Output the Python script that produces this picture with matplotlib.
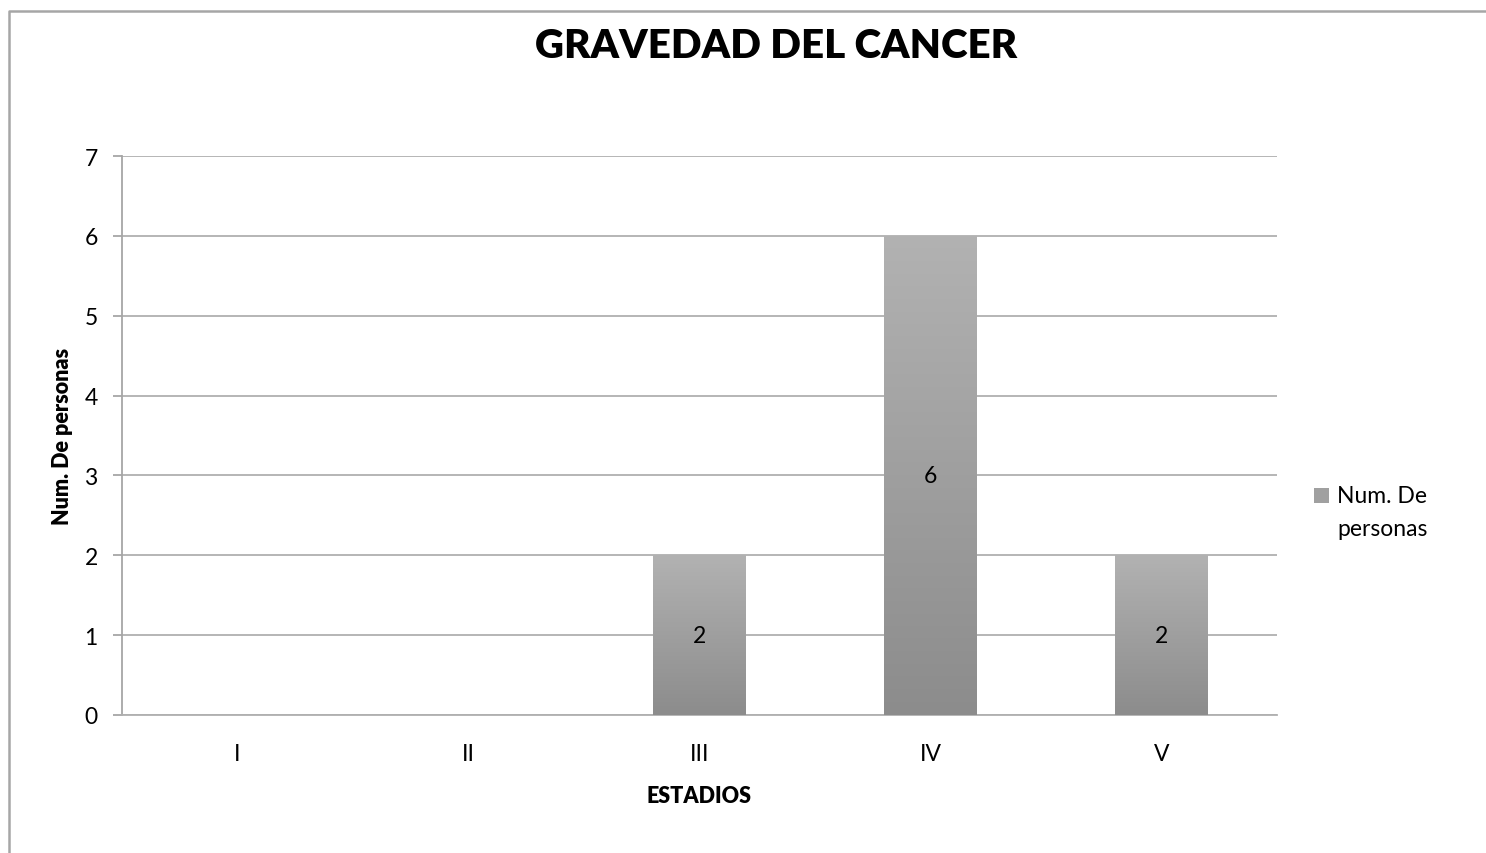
import numpy as np
import matplotlib
matplotlib.use("Agg")
from matplotlib import pyplot as plt
from matplotlib.patches import Rectangle
from matplotlib.lines import Line2D

plt.rcParams['font.family'] = ['Lato', 'DejaVu Sans']

# data
estadios = ['I', 'II', 'III', 'IV', 'V']
personas = [0, 0, 2, 6, 2]
serie = 'Num. De personas'

fig = plt.figure(figsize=(14.86, 8.54), dpi=100)
ax = fig.add_axes([122 / 1486, 1 - 716 / 854, (1277 - 122) / 1486, (716 - 157) / 854])

x = np.arange(len(estadios))
bw = 0.4
grad = np.linspace(0, 1, 256).reshape(-1, 1)
cmap = matplotlib.colors.LinearSegmentedColormap.from_list('g', ['#8c8c8c', '#b2b2b2'])

bars = ax.bar(x, personas, width=bw, color='none', edgecolor='none', zorder=3)
for b, v in zip(bars, personas):
    if v <= 0:
        continue
    im = ax.imshow(grad, cmap=cmap, aspect='auto', origin='lower',
                   extent=[b.get_x(), b.get_x() + b.get_width(), 0, v], zorder=3)
    im.set_clip_path(b)
    ax.text(b.get_x() + b.get_width() / 2, v / 2, str(v), ha='center', va='center',
            fontsize=16.5, color='black', zorder=4)

ax.set_xlim(-0.5, len(estadios) - 0.5)
ax.set_ylim(0, 7)
ax.set_yticks(range(0, 8))
ax.set_xticks(x)
ax.set_xticklabels(estadios)
ax.tick_params(axis='x', length=0, pad=20, labelsize=16.5)
ax.tick_params(axis='y', length=6.5, width=1.3, color='#a6a6a6', pad=11, labelsize=16.5)
ax.yaxis.grid(True, color='#b0b0b0', linewidth=1.3, zorder=0)
ax.set_axisbelow(True)
for s in ['top', 'right']:
    ax.spines[s].set_visible(False)
ax.spines['left'].set_color('#a6a6a6')
ax.spines['left'].set_linewidth(1.3)
ax.spines['bottom'].set_color('#b0b0b0')
ax.spines['bottom'].set_linewidth(1.3)

ax.set_xlabel('ESTADIOS', fontsize=15.5, fontweight='heavy', labelpad=15)
ax.set_ylabel(serie, fontsize=15.5, fontweight='heavy', labelpad=8)

fig.text(776 / 1486, 1 - 47 / 854, 'GRAVEDAD DEL CANCER', ha='center', va='center',
         fontsize=29, fontweight='heavy')

# legend
fig.patches.append(Rectangle((1314 / 1486, 1 - 504 / 854), 15 / 1486, 15 / 854,
                             transform=fig.transFigure, facecolor='#a0a0a0', edgecolor='none'))
fig.text(1337 / 1486, 1 - 497 / 854, 'Num. De', ha='left', va='center', fontsize=16.5)
fig.text(1337 / 1486, 1 - 530 / 854, 'personas', ha='left', va='center', fontsize=16.5)

# chart frame (only top and left visible in the crop)
fig.lines.append(Line2D([8.5 / 1486, 8.5 / 1486, 1], [0, 1 - 11.5 / 854, 1 - 11.5 / 854],
                        transform=fig.transFigure, color='#a6a6a6', linewidth=1.8))

fig.savefig('out.png', dpi=100)
